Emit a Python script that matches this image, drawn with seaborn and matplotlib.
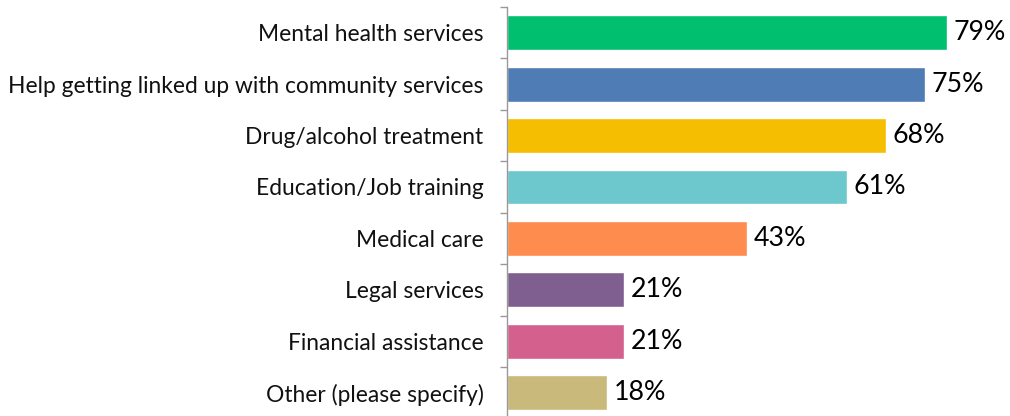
import matplotlib
matplotlib.use("Agg")
import matplotlib.pyplot as plt
import seaborn as sns
import pandas as pd
import numpy as np

categories = ["Mental health services",
              "Help getting linked up with community services",
              "Drug/alcohol treatment",
              "Education/Job training",
              "Medical care",
              "Legal services",
              "Financial assistance",
              "Other (please specify)"]
values = [79, 75, 68, 61, 43, 21, 21, 18]
colors = ["#00BF6F", "#4F7CB5", "#F6BE00", "#6CC8CD",
          "#FF8C4F", "#7F5F90", "#D4608D", "#C9B97A"]

sns.set_theme(style="white")
plt.rcParams['font.family'] = ['Lato', 'DejaVu Sans']

df = pd.DataFrame({"cat": categories, "val": values})

fig = plt.figure(figsize=(10.10, 4.16), dpi=100)
ax = fig.add_axes([507/1010, 1 - 418.4/416, 90*5.57/1010, 411.4/416])

sns.barplot(data=df, y="cat", x="val", hue="cat", palette=colors,
            order=categories, hue_order=categories, legend=False,
            width=0.68, saturation=1, ax=ax)

ax.set_xlim(0, 90)
ax.set_ylim(7.5, -0.5)
ax.set_xlabel("")
ax.set_ylabel("")
ax.set_xticks([])
for s in ["top", "right", "bottom"]:
    ax.spines[s].set_visible(False)
ax.spines["left"].set_color("#999999")
ax.spines["left"].set_linewidth(1.0)

ax.set_yticks(np.arange(len(categories)))
ax.set_yticklabels(categories, fontsize=16.4, color="#111111")
ax.tick_params(axis="y", which="major", length=0, pad=17)
ax.set_yticks(np.arange(-0.5, len(categories), 1), minor=True)
ax.tick_params(axis="y", which="minor", length=5, color="#999999", width=1.0, left=True)

for cont in ax.containers:
    ax.bar_label(cont, labels=[f"{v:.0f}%" for v in cont.datavalues],
                 padding=5, fontsize=19.3, color="#000000")

fig.savefig("out.png", dpi=100)
